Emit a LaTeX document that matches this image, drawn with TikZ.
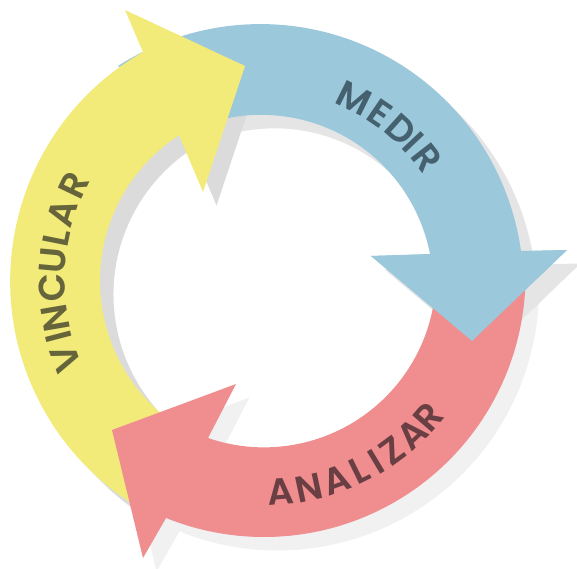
\documentclass[tikz,border=0pt]{standalone}
\usepackage{fontspec}
\setmainfont{Poppins}
\newfontfamily\labelface{Poppins SemiBold}
\usetikzlibrary{calc}
\definecolor{bluearrow}{HTML}{9CC8DC}
\definecolor{yellowarrow}{HTML}{F2EB7A}
\definecolor{redarrow}{HTML}{EF8D8F}
\definecolor{blueink}{HTML}{45606E}
\definecolor{yellowink}{HTML}{66643A}
\definecolor{redink}{HTML}{6A3F44}
\tikzset{
  arrowfill/.style={draw=none},
  lettering/.style={inner sep=0pt,text=#1,font=\labelface\fontsize{37}{37}\selectfont},
}
\def\bluepath{(118,502) arc[start angle=122.8,end angle=7.9,radius=263]
  -- (567,318) -- (472,227) -- (371,312) -- (430,314)
  arc[start angle=11,end angle=105,radius=172] -- cycle}
\def\yellowpath{(143,516) arc[start angle=119.8,end angle=240,radius=264]
  -- ($(274,287)+(240:174)$) arc[start angle=240,end angle=123.1,radius=174]
  -- (203,376) -- (245,502) -- (125,558) -- cycle}
\def\redpath{(525.5,292.5) arc[start angle=0,end angle=-112,radius=261.5]
  -- (143,10) -- (112,138) -- (236,184) -- (208,130)
  arc[start angle=-109,end angle=0,radius=172] -- cycle}
\begin{document}
\begin{tikzpicture}[x=1pt,y=1pt]
\useasboundingbox (0,0) rectangle (577,568);
% shadows
\begin{scope}[shift={(13.5,-13.5)}]
  \fill[arrowfill,fill=black!5.5] \redpath;
  \fill[arrowfill,fill=black!10] \bluepath;
  \fill[arrowfill,fill=black!14] \yellowpath;
\end{scope}
% arrows
\fill[arrowfill,fill=bluearrow] \bluepath;
\fill[arrowfill,fill=yellowarrow] \yellowpath;
\fill[arrowfill,fill=redarrow] \redpath;
\fill[arrowfill,fill=bluearrow] (567,318) -- (472,227) -- (371,312) -- cycle;
% labels
\coordinate (cy) at (274,287);
\coordinate (cb) at (260.5,281);
\coordinate (cr) at (264,292.5);
\foreach \ch/\ang [count=\i] in {V/200.4,I/194.6,N/189.7,C/181.6,U/174.8,L/168.7,A/162.2,R/154.4}
  \node (vinc\i) [lettering=yellowink,rotate=\ang-90] at ([shift={(\ang:222)}]cy) {\ch};
\foreach \ch/\ang [count=\i] in {M/63.6,E/55.5,D/48.1,I/43.4,R/37.8}
  \node (medi\i) [lettering=blueink,rotate=\ang-90] at ([shift={(\ang:211)}]cb) {\ch};
\foreach \ch/\ang [count=\i] in {A/-85.6,N/-77.9,A/-70.4,L/-63.9,I/-59,Z/-53.7,A/-46.9,R/-40.9}
  \node (anal\i) [lettering=redink,rotate=\ang+90] at ([shift={(\ang:217)}]cr) {\ch};
\end{tikzpicture}
\end{document}
